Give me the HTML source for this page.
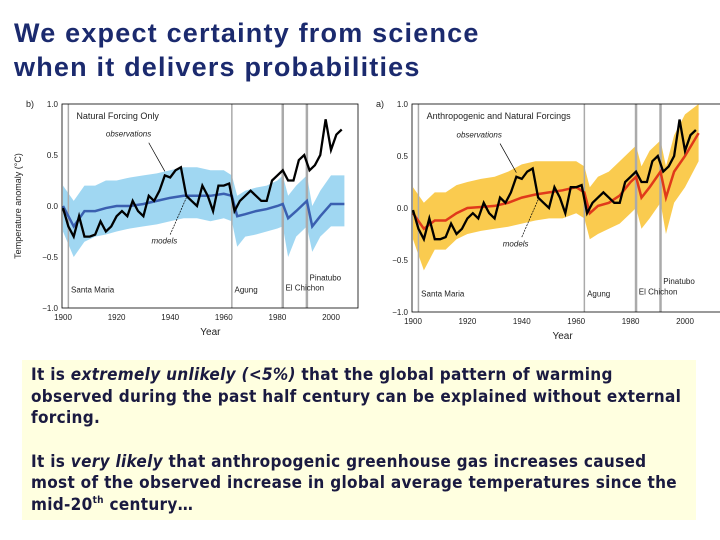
<!DOCTYPE html>
<html><head><meta charset="utf-8"><style>
body{margin:0;width:720px;height:540px;background:#fff;overflow:hidden;position:relative;font-family:"Liberation Sans",sans-serif}
#title{position:absolute;left:14px;top:16px;font-size:27px;font-weight:bold;color:#1b2a6e;line-height:34px;letter-spacing:1.2px;white-space:nowrap}
#box{position:absolute;left:22px;top:360px;width:674px;height:160px;background:#ffffe0;}
#box p{margin:0 0 0 9px;font-size:17px;line-height:21.5px;color:#1a1a40;font-weight:bold;letter-spacing:0.3px;white-space:nowrap;font-family:"DejaVu Sans Condensed","Liberation Sans",sans-serif}
#box sup{font-size:10px;line-height:0;vertical-align:0;position:relative;top:-7px}
svg{position:absolute;left:0;top:0}
</style></head><body>
<div id="title">We expect certainty from science<br>when it delivers probabilities</div>
<svg id="chart" width="720" height="360"></svg>
<div id="box">
<p style="margin-top:5px">It is <i>extremely unlikely (&lt;5%)</i> that the global pattern of warming<br>observed during the past half century can be explained without external<br>forcing.</p>
<p style="margin-top:22px">It is <i>very likely</i> that anthropogenic greenhouse gas increases caused<br>most of the observed increase in global average temperatures since the<br>mid-20<sup>th</sup> century…</p>
</div>
<script>
const obsYears=[1900,1902,1904,1906,1908,1910,1912,1914,1916,1918,1920,1922,1924,1926,1928,1930,1932,1934,1936,1938,1940,1942,1944,1946,1948,1950,1952,1954,1956,1958,1960,1962,1964,1966,1968,1970,1972,1974,1976,1978,1980,1982,1984,1986,1988,1990,1992,1994,1996,1998,2000,2002,2004];
const obsValues=[-0.02,-0.2,-0.3,-0.1,-0.3,-0.3,-0.28,-0.15,-0.25,-0.2,-0.1,-0.05,-0.1,0.05,-0.05,-0.1,0.1,0.05,0.15,0.3,0.28,0.35,0.38,0.1,0.05,0.0,0.2,0.1,-0.05,0.2,0.2,0.22,-0.05,0.05,0.1,0.15,0.1,0.05,0.05,0.25,0.3,0.35,0.25,0.25,0.45,0.5,0.35,0.4,0.5,0.85,0.55,0.7,0.75];
const modelYears=[1900,1904,1908,1912,1916,1920,1925,1930,1935,1940,1945,1950,1955,1960,1963,1965,1968,1972,1976,1980,1982,1984,1987,1991,1993,1996,2000,2005];
const natMean=[0,-0.2,-0.05,-0.05,-0.02,0,0,0.02,0.05,0.08,0.1,0.1,0.1,0.12,0.1,-0.1,-0.08,-0.05,-0.03,0,0.02,-0.12,-0.05,0.05,-0.2,-0.1,0.02,0.02];
const natUpper=[0.2,0.05,0.2,0.2,0.25,0.25,0.28,0.3,0.32,0.35,0.38,0.38,0.35,0.35,0.3,0.1,0.15,0.18,0.2,0.25,0.3,0.1,0.2,0.3,0.0,0.15,0.3,0.3];
const natLower=[-0.25,-0.5,-0.35,-0.3,-0.28,-0.25,-0.22,-0.2,-0.18,-0.15,-0.12,-0.12,-0.15,-0.12,-0.15,-0.4,-0.3,-0.28,-0.25,-0.22,-0.2,-0.5,-0.3,-0.2,-0.45,-0.3,-0.2,-0.2];
const antMean=[-0.05,-0.2,-0.12,-0.12,-0.05,0,0.01,0.02,0.05,0.1,0.13,0.15,0.17,0.2,0.15,-0.05,0.02,0.05,0.12,0.25,0.3,0.1,0.2,0.35,0.1,0.35,0.5,0.72];
const antUpper=[0.2,0.05,0.15,0.15,0.22,0.25,0.28,0.3,0.35,0.42,0.45,0.45,0.45,0.45,0.4,0.2,0.3,0.35,0.45,0.55,0.6,0.4,0.55,0.65,0.4,0.7,0.9,1.0];
const antLower=[-0.3,-0.6,-0.4,-0.4,-0.3,-0.25,-0.22,-0.2,-0.18,-0.15,-0.12,-0.1,-0.1,-0.05,-0.1,-0.3,-0.25,-0.2,-0.15,-0.05,0,-0.2,-0.1,0.05,-0.25,0.05,0.2,0.45];
const volcanoYears=[1902,1963,1982,1991];
const volcanoNames=["Santa Maria","Agung","El Chichon","Pinatubo"];
const yTicks=[1.0,0.5,0.0,-0.5,-1.0];
const xTicks=[1900,1920,1940,1960,1980,2000];

const NS="http://www.w3.org/2000/svg";
const svg=document.getElementById('chart');
function mk(tag,attrs){const e=document.createElementNS(NS,tag);for(const k in attrs)e.setAttribute(k,attrs[k]);svg.appendChild(e);return e;}

function drawPanel(p){
  const xs=y=>p.x0+(y-1900)*p.kx;
  const ys=v=>p.y1+(1-v)*(p.ym1-p.y1)/2;
  let d='';
  modelYears.forEach((y,i)=>d+=(i?'L':'M')+xs(y)+','+ys(p.upper[i]));
  for(let i=modelYears.length-1;i>=0;i--)d+='L'+xs(modelYears[i])+','+ys(p.lower[i]);
  const band=mk('path',{d:d+'Z',fill:p.band,opacity:0.85});
  
  
  volcanoYears.forEach((vy,i)=>{
    const l=mk('line',{x1:xs(vy),x2:xs(vy),y1:ys(1),y2:ys(-1),stroke:'#aaa','stroke-width':i>=2?2.5:1.5});
    
    
  });
  let md='';
  modelYears.forEach((y,i)=>md+=(i?'L':'M')+xs(y)+','+ys(p.mean[i]));
  const ml=mk('path',{d:md,fill:'none',stroke:p.meanColor,'stroke-width':2.5});
  
  
  let od='';
  obsYears.forEach((y,i)=>od+=(i?'L':'M')+xs(y)+','+ys(obsValues[i]));
  const ol=mk('path',{d:od,fill:'none',stroke:'#000','stroke-width':2.3});
  
  
  const ax=mk('rect',{x:p.x0-1,y:ys(1),width:p.w,height:ys(-1)-ys(1),fill:'none',stroke:'#000','stroke-width':0.8});
  
  
  yTicks.forEach(t=>{
    const tx=mk('text',{x:p.x0-5,y:ys(t)+3,'font-size':8,'text-anchor':'end',fill:'#222'});tx.textContent=t.toFixed(1).replace('-','−');
    
    
  });
  xTicks.forEach(t=>{
    const tx=mk('text',{x:xs(t),y:ys(-1)+12,'font-size':8,'text-anchor':'middle',fill:'#222'});tx.textContent=t;
    
    
  });
  const xt=mk('text',{x:xs(1955),y:ys(-1)+27,'font-size':10,'text-anchor':'middle',fill:'#222'});xt.textContent='Year';
  
  
  const lb=mk('text',{x:p.x0-37,y:ys(1)+3,'font-size':9,fill:'#222'});lb.textContent=p.label;
  
  
  const tt=mk('text',{x:xs(1905),y:ys(1)+15,'font-size':9,fill:'#222'});tt.textContent=p.title;
  
  
  const o=mk('text',{x:xs(1916),y:ys(0.68),'font-size':8,'font-style':'italic',fill:'#222'});o.textContent='observations';
  
  
  const m=mk('text',{x:xs(1933),y:ys(-0.37),'font-size':8,'font-style':'italic',fill:'#222'});m.textContent='models';
  
  
  mk('line',{x1:xs(1932),y1:ys(0.62),x2:xs(1938),y2:ys(0.34),stroke:'#000','stroke-width':0.7});
  mk('line',{x1:xs(1940),y1:ys(-0.28),x2:xs(1946),y2:ys(0.08),stroke:'#000','stroke-width':0.7,'stroke-dasharray':'2,1'});
  const vpos=[[1903,-0.85],[1964,-0.85],[1983,-0.83],[1992,-0.73]];
  volcanoNames.forEach((n,i)=>{
    const v=mk('text',{x:xs(vpos[i][0]),y:ys(vpos[i][1]),'font-size':8,fill:'#222'});v.textContent=n;
    
    
  });
  if(p.ylab){
    const yl=mk('text',{x:0,y:0,'font-size':9,'text-anchor':'middle',fill:'#222',transform:`translate(${p.x0-42},${ys(0)}) rotate(-90)`});yl.textContent='Temperature anomaly (°C)';
    
    
  }
}
drawPanel({id:'natural',x0:63,kx:2.68,y1:104,ym1:308,w:296,upper:natUpper,lower:natLower,mean:natMean,band:'#8fd0f0',meanColor:'#3a5fb0',label:'b)',title:'Natural Forcing Only',ylab:true});
drawPanel({id:'anthropogenic',x0:413,kx:2.72,y1:104,ym1:312,w:310,upper:antUpper,lower:antLower,mean:antMean,band:'#f9c230',meanColor:'#e03a1a',label:'a)',title:'Anthropogenic and Natural Forcings',ylab:false});
</script>
</body></html>
